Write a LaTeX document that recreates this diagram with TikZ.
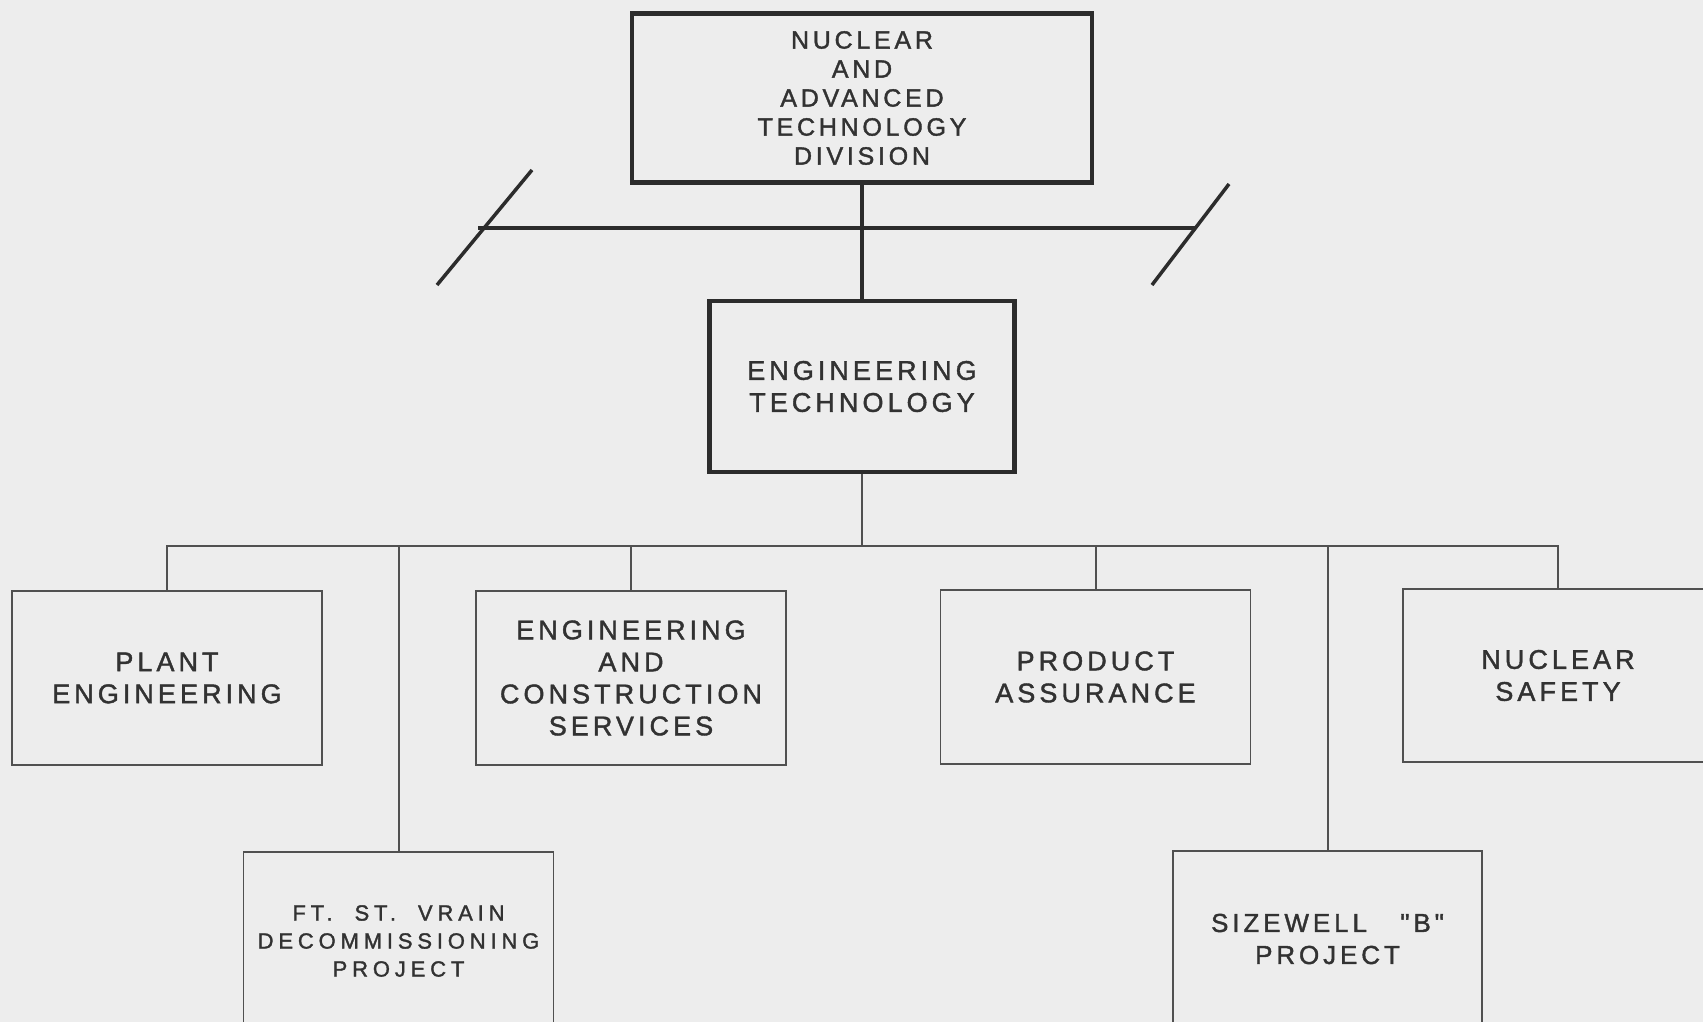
\documentclass[tikz,border=0pt]{standalone}
\usepackage{fontspec}
\setmainfont{Liberation Sans}[LetterSpace=15,FakeBold=1.5]
\newfontfamily\qfont{Liberation Sans}[LetterSpace=15,FakeBold=1.5]
\definecolor{bg}{HTML}{EDEDED}
\definecolor{ink}{HTML}{2C2C2C}
\definecolor{thin}{HTML}{505050}
\definecolor{txt}{HTML}{323232}
\begin{document}
\begin{tikzpicture}[x=1pt,y=-1pt,
  boxthick/.style={draw=ink,line width=4.5pt,rectangle,inner sep=0pt,align=center,text=txt,
    font=\fontsize{27}{32}\selectfont},
  boxthin/.style={draw=thin,line width=1.8pt,rectangle,inner sep=0pt,align=center,text=txt,
    minimum width=310pt,font=\fontsize{27}{32}\selectfont},
  heavy/.style={draw=ink,line width=4.5pt},
  light/.style={draw=thin,line width=2pt}]
\fill[bg] (0,0) rectangle (1703,1022);
\useasboundingbox (0,0) rectangle (1703,1022);

\node[boxthick,minimum width=460pt,minimum height=169pt,font=\fontsize{25}{29}\selectfont] (nat) at (862,98) {NUCLEAR\\AND\\ADVANCED\\TECHNOLOGY\\DIVISION};
\node[boxthick,minimum width=305pt,minimum height=171pt] (et) at (862,386.5) {ENGINEERING\\TECHNOLOGY};

\node[boxthin,minimum height=174pt] (plant) at (167,678) {PLANT\\ENGINEERING};
\node[boxthin,minimum height=174pt] (ecs) at (631,678) {ENGINEERING\\AND\\CONSTRUCTION\\SERVICES};
\node[boxthin,minimum height=174pt] (pa) at (1095.5,677) {PRODUCT\\ASSURANCE};
\node[boxthin,minimum height=173pt] (ns) at (1558,675.5) {NUCLEAR\\SAFETY};
\node[boxthin,minimum height=178pt,font=\fontsize{22}{28}\selectfont\addfontfeature{LetterSpace=22}] (fsv) at (398.5,941) {FT.~~ST.~~VRAIN\\DECOMMISSIONING\\PROJECT};
\node[boxthin,minimum width=309pt,minimum height=176pt,font=\fontsize{26}{32}\selectfont] (sw) at (1327.5,939) {SIZEWELL~~~{\qfont "B"}\\PROJECT};

% top connector with cut bar
\coordinate (barL) at (478,228);
\coordinate (barR) at (1195,228);
\coordinate (s1a) at (437,285);
\coordinate (s1b) at (532,170);
\coordinate (s2a) at (1152,285);
\coordinate (s2b) at (1229,184);
\draw[heavy] (nat.south) -- (et.north);
\draw[heavy] (barL) -- (barR);
\draw[draw=ink,line width=3.5pt] (s1a) -- (s1b);
\draw[draw=ink,line width=3.5pt] (s2a) -- (s2b);

% bus
\coordinate (bus) at (862,546);
\draw[light] (et.south) -- (et.south |- bus);
\draw[light] (plant.north) -- (plant.north |- bus) -- (ns.north |- bus) -- (ns.north);
\draw[light] (ecs.north) -- (ecs.north |- bus);
\draw[light] (pa.north) -- (pa.north |- bus);
\draw[light] (fsv.north) -- (fsv.north |- bus);
\draw[light] (sw.north) -- (sw.north |- bus);
\end{tikzpicture}
\end{document}
